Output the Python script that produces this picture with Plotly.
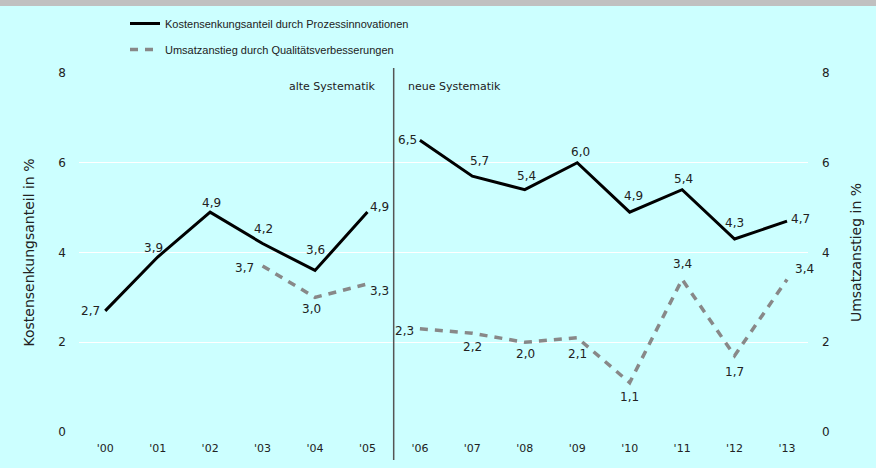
import plotly.graph_objects as go

years = ["'00", "'01", "'02", "'03", "'04", "'05", "'06", "'07", "'08", "'09", "'10", "'11", "'12", "'13"]
kosten = [2.7, 3.9, 4.9, 4.2, 3.6, 4.9, 6.5, 5.7, 5.4, 6.0, 4.9, 5.4, 4.3, 4.7]
umsatz = [None, None, None, 3.7, 3.0, 3.3, 2.3, 2.2, 2.0, 2.1, 1.1, 3.4, 1.7, 3.4]
break_after = 5  # methodology change between '05 and '06

# label offsets in pixels (style only): dx right, dy down
kosten_dx = [-15, -4, 1, 1, 0, 12, -12, 7, 2, 3, 4, 1, 0, 13]
kosten_dy = [0, -9, -9, -15, -20, -5, 0, -15, -14, -11, -16, -11, -16, -2]
umsatz_dx = [0, 0, 0, -18, -4, 12, -15, 0, 1, 0, 0, 0, 0, 17]
umsatz_dy = [0, 0, 0, 2, 12, 7, 2, 14, 12, 16, 14, -15, 16, -10]


def fmt(v):
    return f"{v:.1f}".replace(".", ",")


def with_break(vals):
    xs, ys = [], []
    for i, v in enumerate(vals):
        xs.append(i)
        ys.append(v)
        if i == break_after:
            xs.append(None)
            ys.append(None)
    return xs, ys


BG = "#ccffff"
TXT = "#222222"
LBLFONT = dict(family="DejaVu Sans, Verdana, sans-serif", size=12, color=TXT)
PW, PH = 729, 359
L, T = 79, 73

fig = go.Figure()
kx, ky = with_break(kosten)
ux, uy = with_break(umsatz)
fig.add_trace(go.Scatter(
    x=kx, y=ky, mode="lines", name="Kostensenkungsanteil durch Prozessinnovationen",
    line=dict(color="black", width=3), connectgaps=False, legendgroup="a", cliponaxis=False))
fig.add_trace(go.Scatter(
    x=ux, y=uy, mode="lines", name="Umsatzanstieg durch Qualitätsverbesserungen",
    line=dict(color="#888888", width=3.5, dash="8px,7px"), connectgaps=False,
    yaxis="y2", legendgroup="b", cliponaxis=False))

annotations = []
for i, v in enumerate(kosten):
    if v is None:
        continue
    annotations.append(dict(x=i, y=v, xref="x", yref="y", text=fmt(v), showarrow=False,
                            xshift=kosten_dx[i], yshift=-kosten_dy[i], font=LBLFONT))
for i, v in enumerate(umsatz):
    if v is None:
        continue
    annotations.append(dict(x=i, y=v, xref="x", yref="y2", text=fmt(v), showarrow=False,
                            xshift=umsatz_dx[i], yshift=-umsatz_dy[i], font=LBLFONT))
annotations += [
    dict(text="alte Systematik", xref="x", yref="y", x=break_after + 0.5, y=7.7, xanchor="right", xshift=-16,
         showarrow=False, font=dict(family="DejaVu Sans, Verdana, sans-serif", size=11, color=TXT)),
    dict(text="neue Systematik", xref="x", yref="y", x=break_after + 0.5, y=7.7, xanchor="left", xshift=12,
         showarrow=False, font=dict(family="DejaVu Sans, Verdana, sans-serif", size=11, color=TXT)),
]

fig.update_layout(
    width=876, height=468,
    margin=dict(l=L, r=876 - L - PW, t=T, b=468 - T - PH, autoexpand=False),
    paper_bgcolor=BG, plot_bgcolor=BG,
    font=dict(family="DejaVu Sans, Verdana, sans-serif", size=12, color=TXT),
    showlegend=True,
    legend=dict(x=(125 - L) / PW, y=(432 - 9) / PH, xanchor="left", yanchor="top",
                bgcolor="rgba(0,0,0,0)", tracegroupgap=7, traceorder="grouped",
                font=dict(family="Liberation Sans Narrow, Arial Narrow, Liberation Sans, Arial, sans-serif",
                          size=11, color=TXT)),
    xaxis=dict(range=[-0.5, 13.4], tickvals=list(range(len(years))), ticktext=years, showgrid=False,
               zeroline=False, showline=False, ticks="", ticklabelstandoff=8, automargin=False,
               tickfont=dict(size=11)),
    yaxis=dict(range=[0, 8], dtick=2, showgrid=True, gridcolor="white", gridwidth=1.2,
               zeroline=False, showline=False, ticklabelstandoff=12, automargin=False,
               title=dict(text="Kostensenkungsanteil in %", standoff=20), tickfont=dict(size=12)),
    yaxis2=dict(range=[0, 8], dtick=2, overlaying="y", side="right", showgrid=False,
                zeroline=False, showline=False, ticklabelstandoff=13, automargin=False,
                title=dict(text="Umsatzanstieg in %", standoff=22), tickfont=dict(size=12)),
    shapes=[
        dict(type="line", xref="x", yref="paper", x0=break_after + 0.5, x1=break_after + 0.5,
             y0=(432 - 460) / PH, y1=(432 - 68) / PH, line=dict(color="#555555", width=1.5)),
        dict(type="rect", xref="paper", yref="paper", x0=-L / PW - 0.01, x1=1 + (876 - L - PW) / PW + 0.01,
             y0=(432 - 6) / PH, y1=432 / PH + 0.01, fillcolor="#c0c0c0", line=dict(width=0), layer="above"),
    ],
    annotations=annotations,
)

fig.write_html("out.html", config={"displayModeBar": False},
               post_script="document.body.style.margin='0';document.body.style.padding='0';")
